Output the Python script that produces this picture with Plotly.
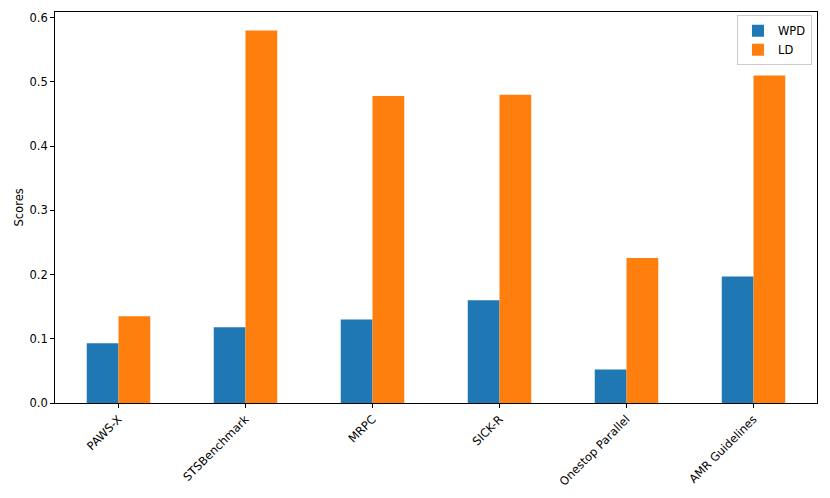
import plotly.graph_objects as go

categories = ["PAWS-X", "STSBenchmark", "MRPC", "SICK-R", "Onestop Parallel", "AMR Guidelines"]
wpd_values = [0.093, 0.118, 0.130, 0.160, 0.052, 0.197]
ld_values = [0.135, 0.580, 0.478, 0.480, 0.226, 0.510]
y_ticks = [0.0, 0.1, 0.2, 0.3, 0.4, 0.5, 0.6]

FONT = "DejaVu Sans"
FS = 11.5

fig = go.Figure()
fig.add_trace(go.Bar(x=categories, y=wpd_values, name="WPD",
                     marker=dict(color="#1f77b4", line=dict(width=0))))
fig.add_trace(go.Bar(x=categories, y=ld_values, name="LD",
                     marker=dict(color="#ff7f0e", line=dict(width=0))))

ymax = max(ld_values + wpd_values) * 1.05

fig.update_layout(
    width=830, height=498,
    margin=dict(l=47, r=21, t=4, b=103),
    paper_bgcolor="white", plot_bgcolor="white",
    font=dict(family=FONT, size=FS, color="black"),
    barmode="group", bargap=0.5, bargroupgap=0,
    showlegend=True,
    legend=dict(x=0.9934, y=0.992, xanchor="right", yanchor="top",
                bgcolor="rgba(255,255,255,0.8)", bordercolor="#cccccc", borderwidth=1,
                font=dict(family=FONT, size=FS, color="black"),
                itemsizing="constant", tracegroupgap=0),
    xaxis=dict(
        type="category", range=[-0.5, len(categories) - 0.5],
        showline=True, linecolor="black", linewidth=0.9, mirror=True,
        ticks="outside", ticklen=4, tickwidth=0.9, tickcolor="black",
        tickangle=-45, showgrid=False, zeroline=False,
        tickfont=dict(family=FONT, size=FS, color="black"),
    ),
    yaxis=dict(
        range=[0, ymax],
        tickvals=y_ticks, tickformat=".1f",
        showline=True, linecolor="black", linewidth=0.9, mirror=True,
        ticks="outside", ticklen=4, tickwidth=0.9, tickcolor="black",
        showgrid=False, zeroline=False,
        tickfont=dict(family=FONT, size=FS, color="black"),
    ),
    annotations=[dict(text="Scores", xref="paper", yref="paper",
                      x=(18 - 55) / 762, y=0.5, xanchor="center", yanchor="middle",
                      textangle=-90, showarrow=False,
                      font=dict(family=FONT, size=FS, color="black"))],
)

fig.write_html("out.html")
